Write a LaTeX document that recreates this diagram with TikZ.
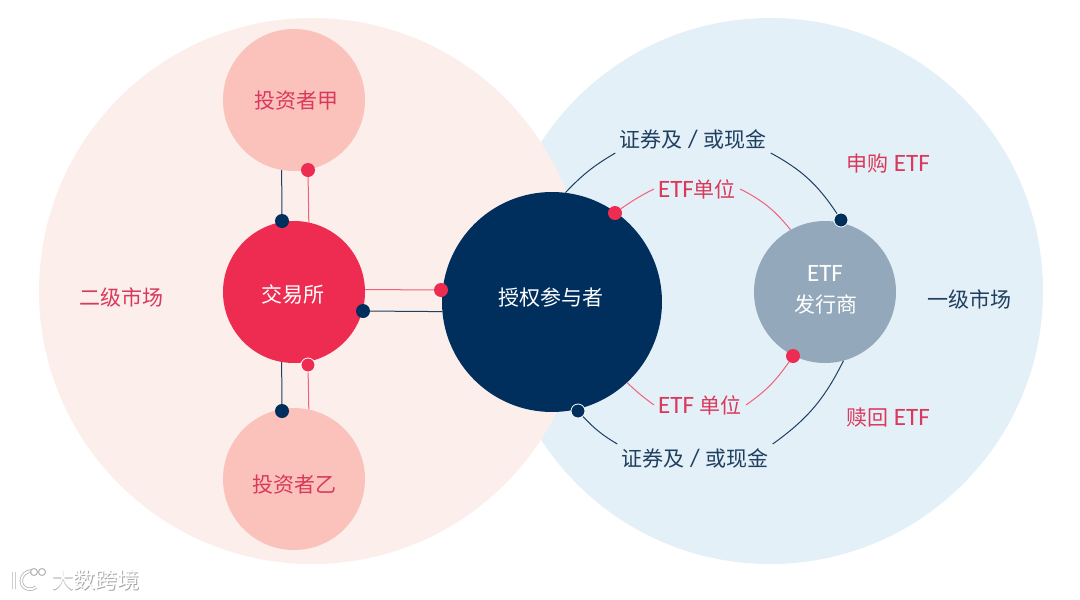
\documentclass[tikz,border=0pt]{standalone}
\usepackage{fontspec}
\setmainfont{Carlito}
\newfontfamily\cjk{Noto Sans CJK SC}
\definecolor{navy}{HTML}{002F5D}
\definecolor{rosered}{HTML}{EE2B50}
\definecolor{slategray}{HTML}{93A8BA}
\definecolor{softpink}{HTML}{FBC2BB}
\definecolor{leftbg}{HTML}{FCEEEA}
\definecolor{rightbg}{HTML}{E4F0F7}
\definecolor{labelred}{HTML}{D9395C}
\definecolor{labelnavy}{HTML}{1F3F60}
\pgfdeclarelayer{marks}
\pgfsetlayers{main,marks}
\tikzset{
  disc/.style={shape=circle,draw=none,inner sep=0pt},
  dotmark/.style={shape=circle,draw=none,inner sep=0pt,minimum size=14pt},
  ringed/.style={draw=white,line width=0.8pt},
  lbl/.style={inner sep=4pt,font=\fontsize{25}{30}\selectfont},
  wmtext/.style={font=\fontsize{22}{26}\selectfont},
  navyline/.style={draw=labelnavy,line width=1pt},
  redline/.style={draw=rosered!75!white,line width=1pt}
}
\newcommand{\bigdisc}[5]{\node[disc,fill=#4,minimum size=#5] (#1) at ( #2 , #3 ) {};}
\newcommand{\markdot}[5][]{\begin{pgfonlayer}{marks}\node[dotmark,fill=#5,#1] (#2) at ( #3 , #4 ) {};\end{pgfonlayer}}
\newcommand{\labltext}[5]{\node[lbl,text=#4] (#1) at ( #2 , #3 ) {#5};}
\newcommand{\zh}[1]{{\cjk\fontsize{21}{30}\selectfont #1}}
\begin{document}
\begin{tikzpicture}[x=1pt,y=-1pt]
        \useasboundingbox (0,0) rectangle (1080,600);
        % market circles
        \bigdisc{primary}{770}{291}{rightbg}{546pt}
        \bigdisc{secondary}{312}{291}{leftbg}{546pt}

        % parties
        \bigdisc{jia}{294}{100}{softpink}{142pt}
        \bigdisc{exchange}{294}{292}{rosered}{142pt}
        \bigdisc{yi}{294}{479}{softpink}{142pt}
        \bigdisc{auth}{552}{302}{navy}{220pt}
        \bigdisc{issuer}{825}{292}{slategray}{142pt}

        % dots
        \markdot{dotjian}{282}{221}{navy}
        \markdot{dotjiar}{308}{170}{rosered}
        \markdot[ringed]{dotyir}{308}{365}{rosered}
        \markdot{dotyin}{282}{411}{navy}
        \markdot{dotauthr}{441}{290}{rosered}
        \markdot{dotexn}{363}{311}{navy}
        \markdot{dotunitr}{615}{213}{rosered}
        \markdot[ringed]{dotcashn}{841}{220}{navy}
        \markdot{dotissr}{793}{356}{rosered}
        \markdot[ringed]{dotbackn}{578}{411}{navy}

        % labels
        \labltext{tjia}{296}{101}{labelred}{\zh{投资者甲}}
        \labltext{tex}{293}{294}{white}{\zh{交易所}}
        \labltext{tyi}{294}{485}{labelred}{\zh{投资者乙}}
        \labltext{tsec}{121}{297}{labelred}{\zh{二级市场}}
        \labltext{tpri}{969}{299}{labelnavy}{\zh{一级市场}}
        \labltext{tauth}{551}{298}{white}{\zh{授权参与者}}
        \labltext{tetf}{825}{273}{white}{ETF}
        \labltext{tiss}{826}{305}{white}{\zh{发行商}}
        \labltext{sectop}{693}{139}{labelnavy}{\zh{证券及} / \zh{或现金}}
        \labltext{secbot}{695}{458}{labelnavy}{\zh{证券及} / \zh{或现金}}
        \labltext{unittop}{697}{189}{labelred}{ETF\zh{单位}}
        \labltext{unitbot}{700}{405}{labelred}{ETF \zh{单位}}
        \labltext{tbuy}{888}{164}{labelred}{\zh{申购} ETF}
        \labltext{tback}{888}{418}{labelred}{\zh{赎回} ETF}

        % straight links
        \draw[navyline] (dotjian) -- (jia.260);
        \draw[redline] (dotjiar) -- (exchange.78);
        \draw[navyline] (exchange.-100) -- (dotyin);
        \draw[redline] (dotyir) -- (yi.78);
        \draw[redline] (exchange.2) -- (dotauthr);
        \draw[navyline] (dotexn) -- (auth.-175);

        % curved links
        \draw[navyline] (auth.83) to[bend left=8] (sectop.south west);
        \draw[navyline] (sectop.south east) to[bend left=14] (dotcashn);
        \draw[redline] (dotunitr) to[bend left=4] (unittop.west);
        \draw[redline] (unittop.east) to[bend left=12] (issuer.119);
        \draw[redline] (auth.-47) to[bend right=4] (unitbot.west);
        \draw[redline] (unitbot.east) to[bend right=10] (dotissr);
        \draw[navyline] (dotbackn) to[bend right=8] (secbot.north west);
        \draw[navyline] (secbot.north east) to[bend right=14] (issuer.-75);

        % watermark
        \node[wmtext,text=black!35] (wmshade) at (96.8,580.8) {\cjk 大数跨境};
        \node[wmtext,text=white] (wm) at (96,580) {\cjk 大数跨境};
        \draw[black!30,line width=3.4pt] (14,572) -- (14,589) (31,571) .. controls (21,572) and (19,583) .. (24,587) .. controls (27,590) and (33,590) .. (36,587);
        \draw[white,line width=1.8pt] (14,572) -- (14,589) (31,571) .. controls (21,572) and (19,583) .. (24,587) .. controls (27,590) and (33,590) .. (36,587);
        \draw[black!30,line width=1pt] (34,572) circle (3.5) (42,572) circle (3.5);
\end{tikzpicture}
\end{document}
